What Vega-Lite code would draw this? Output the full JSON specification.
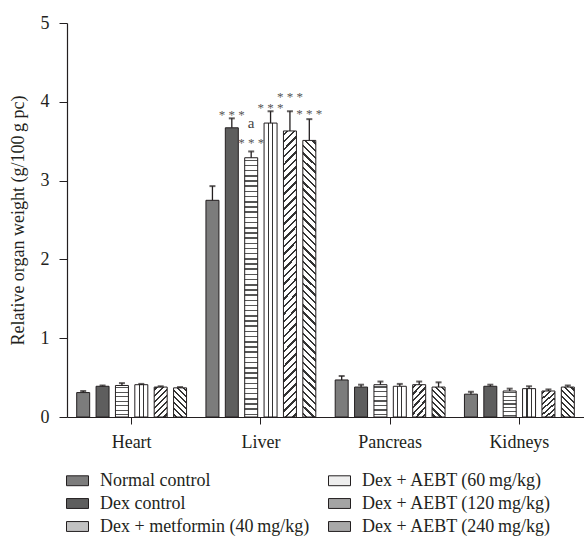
{
  "$schema": "https://vega.github.io/schema/vega-lite/v6.json",
  "width": 517,
  "height": 394,
  "autosize": {"type": "none"},
  "padding": {"left": 67, "top": 23, "right": 0, "bottom": 131},
  "background": "white",
  "config": {
    "view": {"stroke": null},
    "font": "Liberation Serif",
    "axis": {"labelFont": "Liberation Serif", "titleFont": "Liberation Serif", "labelColor": "#231f20", "titleColor": "#231f20", "domainColor": "#231f20", "tickColor": "#231f20", "grid": false},
    "legend": {"labelFont": "Liberation Serif", "labelColor": "#231f20"}
  },
  "datasets": {
    "bars": [
      {"organ": "Heart", "group": "Normal control", "mean": 0.31, "upper": 0.33},
      {"organ": "Heart", "group": "Dex control", "mean": 0.39, "upper": 0.40},
      {"organ": "Heart", "group": "Dex + metformin (40\u2009mg/kg)", "mean": 0.40, "upper": 0.43},
      {"organ": "Heart", "group": "Dex + AEBT (60\u2009mg/kg)", "mean": 0.41, "upper": 0.42},
      {"organ": "Heart", "group": "Dex + AEBT (120\u2009mg/kg)", "mean": 0.38, "upper": 0.39},
      {"organ": "Heart", "group": "Dex + AEBT (240\u2009mg/kg)", "mean": 0.37, "upper": 0.38},
      {"organ": "Liver", "group": "Normal control", "mean": 2.75, "upper": 2.93},
      {"organ": "Liver", "group": "Dex control", "mean": 3.67, "upper": 3.79},
      {"organ": "Liver", "group": "Dex + metformin (40\u2009mg/kg)", "mean": 3.29, "upper": 3.37},
      {"organ": "Liver", "group": "Dex + AEBT (60\u2009mg/kg)", "mean": 3.73, "upper": 3.88},
      {"organ": "Liver", "group": "Dex + AEBT (120\u2009mg/kg)", "mean": 3.63, "upper": 3.88},
      {"organ": "Liver", "group": "Dex + AEBT (240\u2009mg/kg)", "mean": 3.51, "upper": 3.78},
      {"organ": "Pancreas", "group": "Normal control", "mean": 0.47, "upper": 0.52},
      {"organ": "Pancreas", "group": "Dex control", "mean": 0.38, "upper": 0.41},
      {"organ": "Pancreas", "group": "Dex + metformin (40\u2009mg/kg)", "mean": 0.41, "upper": 0.45},
      {"organ": "Pancreas", "group": "Dex + AEBT (60\u2009mg/kg)", "mean": 0.39, "upper": 0.42},
      {"organ": "Pancreas", "group": "Dex + AEBT (120\u2009mg/kg)", "mean": 0.41, "upper": 0.45},
      {"organ": "Pancreas", "group": "Dex + AEBT (240\u2009mg/kg)", "mean": 0.38, "upper": 0.44},
      {"organ": "Kidneys", "group": "Normal control", "mean": 0.29, "upper": 0.32},
      {"organ": "Kidneys", "group": "Dex control", "mean": 0.39, "upper": 0.41},
      {"organ": "Kidneys", "group": "Dex + metformin (40\u2009mg/kg)", "mean": 0.33, "upper": 0.36},
      {"organ": "Kidneys", "group": "Dex + AEBT (60\u2009mg/kg)", "mean": 0.36, "upper": 0.39},
      {"organ": "Kidneys", "group": "Dex + AEBT (120\u2009mg/kg)", "mean": 0.33, "upper": 0.35},
      {"organ": "Kidneys", "group": "Dex + AEBT (240\u2009mg/kg)", "mean": 0.38, "upper": 0.40}
    ],
    "notes": [
      {"organ": "Liver", "group": "Dex control", "label": "* * *", "pos": 3.87},
      {"organ": "Liver", "group": "Dex + metformin (40\u2009mg/kg)", "label": "* * *", "pos": 3.51},
      {"organ": "Liver", "group": "Dex + AEBT (60\u2009mg/kg)", "label": "* * *", "pos": 3.96},
      {"organ": "Liver", "group": "Dex + AEBT (120\u2009mg/kg)", "label": "* * *", "pos": 4.10},
      {"organ": "Liver", "group": "Dex + AEBT (240\u2009mg/kg)", "label": "* * *", "pos": 3.88}
    ],
    "letters": [
      {"organ": "Liver", "group": "Dex + metformin (40\u2009mg/kg)", "label": "a", "pos": 3.73}
    ]
  },
  "encoding": {
    "x": {
      "field": "organ", "type": "nominal",
      "sort": ["Heart", "Liver", "Pancreas", "Kidneys"],
      "scale": {"paddingInner": 0.1, "paddingOuter": 0.05},
      "axis": {"title": null, "labelAngle": 0, "labelFontSize": 18, "labelPadding": 9, "tickSize": 7, "domainWidth": 1.2}
    },
    "xOffset": {
      "field": "group", "type": "nominal",
      "scale": {
        "domain": ["Normal control", "Dex control", "Dex + metformin (40\u2009mg/kg)", "Dex + AEBT (60\u2009mg/kg)", "Dex + AEBT (120\u2009mg/kg)", "Dex + AEBT (240\u2009mg/kg)"],
        "paddingInner": 0.33, "paddingOuter": 0.167
      }
    }
  },
  "layer": [
    {
      "data": {"name": "bars"},
      "mark": {"type": "bar", "stroke": "#231f20", "strokeWidth": 1},
      "encoding": {
        "y": {
          "field": "mean", "type": "quantitative",
          "scale": {"domain": [0, 5]},
          "axis": {"title": "Relative organ weight (g/100\u2009g pc)", "titleFontSize": 18, "titleFontWeight": "normal", "titleX": -49, "titleY": 197, "titleBaseline": "middle", "titleAngle": 270, "labelFontSize": 18, "labelPadding": 10, "labelOverlap": false, "tickSize": 8, "values": [0, 1, 2, 3, 4, 5], "domainWidth": 1.2}
        },
        "fill": {
          "field": "group", "type": "nominal",
          "scale": {
            "domain": ["Normal control", "Dex control", "Dex + metformin (40\u2009mg/kg)", "Dex + AEBT (60\u2009mg/kg)", "Dex + AEBT (120\u2009mg/kg)", "Dex + AEBT (240\u2009mg/kg)"],
            "range": ["#7c7c7c", "#5e5e5e", "#c2c2c2", "#eeeeee", "#a4a4a4", "#a9a9a9"]
          },
          "condition": [
            {"test": "datum.group === 'Dex + AEBT (60\u2009mg/kg)'", "value": {"gradient": "linear", "x1": 0, "y1": 0, "x2": 1, "y2": 0, "stops": [
              {"offset": 0, "color": "#ffffff"}, {"offset": 0.3, "color": "#ffffff"}, {"offset": 0.3, "color": "#333333"}, {"offset": 0.38, "color": "#333333"}, {"offset": 0.38, "color": "#ffffff"},
              {"offset": 0.62, "color": "#ffffff"}, {"offset": 0.62, "color": "#333333"}, {"offset": 0.7, "color": "#333333"}, {"offset": 0.7, "color": "#ffffff"}, {"offset": 1, "color": "#ffffff"}]}},
            {"test": "datum.group === 'Dex + metformin (40\u2009mg/kg)' && datum.organ === 'Liver'", "value": {"gradient": "linear", "x1": 0, "y1": 0, "x2": 0, "y2": 1, "stops": [
              {"offset": 0.007, "color": "#fff"}, {"offset": 0.007, "color": "#555"}, {"offset": 0.013, "color": "#555"}, {"offset": 0.013, "color": "#fff"},
              {"offset": 0.027, "color": "#fff"}, {"offset": 0.027, "color": "#555"}, {"offset": 0.033, "color": "#555"}, {"offset": 0.033, "color": "#fff"},
              {"offset": 0.047, "color": "#fff"}, {"offset": 0.047, "color": "#555"}, {"offset": 0.053, "color": "#555"}, {"offset": 0.053, "color": "#fff"},
              {"offset": 0.067, "color": "#fff"}, {"offset": 0.067, "color": "#555"}, {"offset": 0.073, "color": "#555"}, {"offset": 0.073, "color": "#fff"},
              {"offset": 0.087, "color": "#fff"}, {"offset": 0.087, "color": "#555"}, {"offset": 0.093, "color": "#555"}, {"offset": 0.093, "color": "#fff"},
              {"offset": 0.107, "color": "#fff"}, {"offset": 0.107, "color": "#555"}, {"offset": 0.113, "color": "#555"}, {"offset": 0.113, "color": "#fff"},
              {"offset": 0.127, "color": "#fff"}, {"offset": 0.127, "color": "#555"}, {"offset": 0.133, "color": "#555"}, {"offset": 0.133, "color": "#fff"},
              {"offset": 0.147, "color": "#fff"}, {"offset": 0.147, "color": "#555"}, {"offset": 0.153, "color": "#555"}, {"offset": 0.153, "color": "#fff"},
              {"offset": 0.167, "color": "#fff"}, {"offset": 0.167, "color": "#555"}, {"offset": 0.173, "color": "#555"}, {"offset": 0.173, "color": "#fff"},
              {"offset": 0.187, "color": "#fff"}, {"offset": 0.187, "color": "#555"}, {"offset": 0.193, "color": "#555"}, {"offset": 0.193, "color": "#fff"},
              {"offset": 0.207, "color": "#fff"}, {"offset": 0.207, "color": "#555"}, {"offset": 0.213, "color": "#555"}, {"offset": 0.213, "color": "#fff"},
              {"offset": 0.227, "color": "#fff"}, {"offset": 0.227, "color": "#555"}, {"offset": 0.233, "color": "#555"}, {"offset": 0.233, "color": "#fff"},
              {"offset": 0.247, "color": "#fff"}, {"offset": 0.247, "color": "#555"}, {"offset": 0.253, "color": "#555"}, {"offset": 0.253, "color": "#fff"},
              {"offset": 0.267, "color": "#fff"}, {"offset": 0.267, "color": "#555"}, {"offset": 0.273, "color": "#555"}, {"offset": 0.273, "color": "#fff"},
              {"offset": 0.287, "color": "#fff"}, {"offset": 0.287, "color": "#555"}, {"offset": 0.293, "color": "#555"}, {"offset": 0.293, "color": "#fff"},
              {"offset": 0.307, "color": "#fff"}, {"offset": 0.307, "color": "#555"}, {"offset": 0.313, "color": "#555"}, {"offset": 0.313, "color": "#fff"},
              {"offset": 0.327, "color": "#fff"}, {"offset": 0.327, "color": "#555"}, {"offset": 0.333, "color": "#555"}, {"offset": 0.333, "color": "#fff"},
              {"offset": 0.347, "color": "#fff"}, {"offset": 0.347, "color": "#555"}, {"offset": 0.353, "color": "#555"}, {"offset": 0.353, "color": "#fff"},
              {"offset": 0.367, "color": "#fff"}, {"offset": 0.367, "color": "#555"}, {"offset": 0.373, "color": "#555"}, {"offset": 0.373, "color": "#fff"},
              {"offset": 0.387, "color": "#fff"}, {"offset": 0.387, "color": "#555"}, {"offset": 0.393, "color": "#555"}, {"offset": 0.393, "color": "#fff"},
              {"offset": 0.407, "color": "#fff"}, {"offset": 0.407, "color": "#555"}, {"offset": 0.413, "color": "#555"}, {"offset": 0.413, "color": "#fff"},
              {"offset": 0.427, "color": "#fff"}, {"offset": 0.427, "color": "#555"}, {"offset": 0.433, "color": "#555"}, {"offset": 0.433, "color": "#fff"},
              {"offset": 0.447, "color": "#fff"}, {"offset": 0.447, "color": "#555"}, {"offset": 0.453, "color": "#555"}, {"offset": 0.453, "color": "#fff"},
              {"offset": 0.467, "color": "#fff"}, {"offset": 0.467, "color": "#555"}, {"offset": 0.473, "color": "#555"}, {"offset": 0.473, "color": "#fff"},
              {"offset": 0.487, "color": "#fff"}, {"offset": 0.487, "color": "#555"}, {"offset": 0.493, "color": "#555"}, {"offset": 0.493, "color": "#fff"},
              {"offset": 0.507, "color": "#fff"}, {"offset": 0.507, "color": "#555"}, {"offset": 0.513, "color": "#555"}, {"offset": 0.513, "color": "#fff"},
              {"offset": 0.527, "color": "#fff"}, {"offset": 0.527, "color": "#555"}, {"offset": 0.533, "color": "#555"}, {"offset": 0.533, "color": "#fff"},
              {"offset": 0.547, "color": "#fff"}, {"offset": 0.547, "color": "#555"}, {"offset": 0.553, "color": "#555"}, {"offset": 0.553, "color": "#fff"},
              {"offset": 0.567, "color": "#fff"}, {"offset": 0.567, "color": "#555"}, {"offset": 0.573, "color": "#555"}, {"offset": 0.573, "color": "#fff"},
              {"offset": 0.587, "color": "#fff"}, {"offset": 0.587, "color": "#555"}, {"offset": 0.593, "color": "#555"}, {"offset": 0.593, "color": "#fff"},
              {"offset": 0.607, "color": "#fff"}, {"offset": 0.607, "color": "#555"}, {"offset": 0.613, "color": "#555"}, {"offset": 0.613, "color": "#fff"},
              {"offset": 0.627, "color": "#fff"}, {"offset": 0.627, "color": "#555"}, {"offset": 0.633, "color": "#555"}, {"offset": 0.633, "color": "#fff"},
              {"offset": 0.647, "color": "#fff"}, {"offset": 0.647, "color": "#555"}, {"offset": 0.653, "color": "#555"}, {"offset": 0.653, "color": "#fff"},
              {"offset": 0.667, "color": "#fff"}, {"offset": 0.667, "color": "#555"}, {"offset": 0.673, "color": "#555"}, {"offset": 0.673, "color": "#fff"},
              {"offset": 0.687, "color": "#fff"}, {"offset": 0.687, "color": "#555"}, {"offset": 0.693, "color": "#555"}, {"offset": 0.693, "color": "#fff"},
              {"offset": 0.707, "color": "#fff"}, {"offset": 0.707, "color": "#555"}, {"offset": 0.713, "color": "#555"}, {"offset": 0.713, "color": "#fff"},
              {"offset": 0.727, "color": "#fff"}, {"offset": 0.727, "color": "#555"}, {"offset": 0.733, "color": "#555"}, {"offset": 0.733, "color": "#fff"},
              {"offset": 0.747, "color": "#fff"}, {"offset": 0.747, "color": "#555"}, {"offset": 0.753, "color": "#555"}, {"offset": 0.753, "color": "#fff"},
              {"offset": 0.767, "color": "#fff"}, {"offset": 0.767, "color": "#555"}, {"offset": 0.773, "color": "#555"}, {"offset": 0.773, "color": "#fff"},
              {"offset": 0.787, "color": "#fff"}, {"offset": 0.787, "color": "#555"}, {"offset": 0.793, "color": "#555"}, {"offset": 0.793, "color": "#fff"},
              {"offset": 0.807, "color": "#fff"}, {"offset": 0.807, "color": "#555"}, {"offset": 0.813, "color": "#555"}, {"offset": 0.813, "color": "#fff"},
              {"offset": 0.827, "color": "#fff"}, {"offset": 0.827, "color": "#555"}, {"offset": 0.833, "color": "#555"}, {"offset": 0.833, "color": "#fff"},
              {"offset": 0.847, "color": "#fff"}, {"offset": 0.847, "color": "#555"}, {"offset": 0.853, "color": "#555"}, {"offset": 0.853, "color": "#fff"},
              {"offset": 0.867, "color": "#fff"}, {"offset": 0.867, "color": "#555"}, {"offset": 0.873, "color": "#555"}, {"offset": 0.873, "color": "#fff"},
              {"offset": 0.887, "color": "#fff"}, {"offset": 0.887, "color": "#555"}, {"offset": 0.893, "color": "#555"}, {"offset": 0.893, "color": "#fff"},
              {"offset": 0.907, "color": "#fff"}, {"offset": 0.907, "color": "#555"}, {"offset": 0.913, "color": "#555"}, {"offset": 0.913, "color": "#fff"},
              {"offset": 0.927, "color": "#fff"}, {"offset": 0.927, "color": "#555"}, {"offset": 0.933, "color": "#555"}, {"offset": 0.933, "color": "#fff"},
              {"offset": 0.947, "color": "#fff"}, {"offset": 0.947, "color": "#555"}, {"offset": 0.953, "color": "#555"}, {"offset": 0.953, "color": "#fff"},
              {"offset": 0.967, "color": "#fff"}, {"offset": 0.967, "color": "#555"}, {"offset": 0.973, "color": "#555"}, {"offset": 0.973, "color": "#fff"},
              {"offset": 0.987, "color": "#fff"}, {"offset": 0.987, "color": "#555"}, {"offset": 0.993, "color": "#555"}, {"offset": 0.993, "color": "#fff"}]}},
            {"test": "datum.group === 'Dex + metformin (40\u2009mg/kg)'", "value": {"gradient": "linear", "x1": 0, "y1": 0, "x2": 0, "y2": 1, "stops": [
              {"offset": 0.05, "color": "#fff"}, {"offset": 0.05, "color": "#555"}, {"offset": 0.095, "color": "#555"}, {"offset": 0.095, "color": "#fff"},
              {"offset": 0.1929, "color": "#fff"}, {"offset": 0.1929, "color": "#555"}, {"offset": 0.2379, "color": "#555"}, {"offset": 0.2379, "color": "#fff"},
              {"offset": 0.3357, "color": "#fff"}, {"offset": 0.3357, "color": "#555"}, {"offset": 0.3807, "color": "#555"}, {"offset": 0.3807, "color": "#fff"},
              {"offset": 0.4786, "color": "#fff"}, {"offset": 0.4786, "color": "#555"}, {"offset": 0.5236, "color": "#555"}, {"offset": 0.5236, "color": "#fff"},
              {"offset": 0.6214, "color": "#fff"}, {"offset": 0.6214, "color": "#555"}, {"offset": 0.6664, "color": "#555"}, {"offset": 0.6664, "color": "#fff"},
              {"offset": 0.7643, "color": "#fff"}, {"offset": 0.7643, "color": "#555"}, {"offset": 0.8093, "color": "#555"}, {"offset": 0.8093, "color": "#fff"},
              {"offset": 0.9071, "color": "#fff"}, {"offset": 0.9071, "color": "#555"}, {"offset": 0.9521, "color": "#555"}, {"offset": 0.9521, "color": "#fff"}]}},
            {"test": "datum.group === 'Dex + AEBT (120\u2009mg/kg)' && datum.organ === 'Liver'", "value": {"gradient": "linear", "x1": 0, "y1": 0, "x2": 0.0483, "y2": 1.044, "stops": [
              {"offset": 0.009, "color": "#fff"}, {"offset": 0.009, "color": "#333"}, {"offset": 0.017, "color": "#333"}, {"offset": 0.017, "color": "#fff"},
              {"offset": 0.034, "color": "#fff"}, {"offset": 0.034, "color": "#333"}, {"offset": 0.042, "color": "#333"}, {"offset": 0.042, "color": "#fff"},
              {"offset": 0.059, "color": "#fff"}, {"offset": 0.059, "color": "#333"}, {"offset": 0.067, "color": "#333"}, {"offset": 0.067, "color": "#fff"},
              {"offset": 0.084, "color": "#fff"}, {"offset": 0.084, "color": "#333"}, {"offset": 0.092, "color": "#333"}, {"offset": 0.092, "color": "#fff"},
              {"offset": 0.109, "color": "#fff"}, {"offset": 0.109, "color": "#333"}, {"offset": 0.117, "color": "#333"}, {"offset": 0.117, "color": "#fff"},
              {"offset": 0.134, "color": "#fff"}, {"offset": 0.134, "color": "#333"}, {"offset": 0.142, "color": "#333"}, {"offset": 0.142, "color": "#fff"},
              {"offset": 0.159, "color": "#fff"}, {"offset": 0.159, "color": "#333"}, {"offset": 0.167, "color": "#333"}, {"offset": 0.167, "color": "#fff"},
              {"offset": 0.184, "color": "#fff"}, {"offset": 0.184, "color": "#333"}, {"offset": 0.192, "color": "#333"}, {"offset": 0.192, "color": "#fff"},
              {"offset": 0.209, "color": "#fff"}, {"offset": 0.209, "color": "#333"}, {"offset": 0.217, "color": "#333"}, {"offset": 0.217, "color": "#fff"},
              {"offset": 0.234, "color": "#fff"}, {"offset": 0.234, "color": "#333"}, {"offset": 0.242, "color": "#333"}, {"offset": 0.242, "color": "#fff"},
              {"offset": 0.259, "color": "#fff"}, {"offset": 0.259, "color": "#333"}, {"offset": 0.267, "color": "#333"}, {"offset": 0.267, "color": "#fff"},
              {"offset": 0.284, "color": "#fff"}, {"offset": 0.284, "color": "#333"}, {"offset": 0.292, "color": "#333"}, {"offset": 0.292, "color": "#fff"},
              {"offset": 0.309, "color": "#fff"}, {"offset": 0.309, "color": "#333"}, {"offset": 0.317, "color": "#333"}, {"offset": 0.317, "color": "#fff"},
              {"offset": 0.334, "color": "#fff"}, {"offset": 0.334, "color": "#333"}, {"offset": 0.342, "color": "#333"}, {"offset": 0.342, "color": "#fff"},
              {"offset": 0.359, "color": "#fff"}, {"offset": 0.359, "color": "#333"}, {"offset": 0.367, "color": "#333"}, {"offset": 0.367, "color": "#fff"},
              {"offset": 0.384, "color": "#fff"}, {"offset": 0.384, "color": "#333"}, {"offset": 0.392, "color": "#333"}, {"offset": 0.392, "color": "#fff"},
              {"offset": 0.409, "color": "#fff"}, {"offset": 0.409, "color": "#333"}, {"offset": 0.417, "color": "#333"}, {"offset": 0.417, "color": "#fff"},
              {"offset": 0.434, "color": "#fff"}, {"offset": 0.434, "color": "#333"}, {"offset": 0.442, "color": "#333"}, {"offset": 0.442, "color": "#fff"},
              {"offset": 0.459, "color": "#fff"}, {"offset": 0.459, "color": "#333"}, {"offset": 0.467, "color": "#333"}, {"offset": 0.467, "color": "#fff"},
              {"offset": 0.484, "color": "#fff"}, {"offset": 0.484, "color": "#333"}, {"offset": 0.492, "color": "#333"}, {"offset": 0.492, "color": "#fff"},
              {"offset": 0.509, "color": "#fff"}, {"offset": 0.509, "color": "#333"}, {"offset": 0.517, "color": "#333"}, {"offset": 0.517, "color": "#fff"},
              {"offset": 0.534, "color": "#fff"}, {"offset": 0.534, "color": "#333"}, {"offset": 0.542, "color": "#333"}, {"offset": 0.542, "color": "#fff"},
              {"offset": 0.559, "color": "#fff"}, {"offset": 0.559, "color": "#333"}, {"offset": 0.567, "color": "#333"}, {"offset": 0.567, "color": "#fff"},
              {"offset": 0.584, "color": "#fff"}, {"offset": 0.584, "color": "#333"}, {"offset": 0.592, "color": "#333"}, {"offset": 0.592, "color": "#fff"},
              {"offset": 0.609, "color": "#fff"}, {"offset": 0.609, "color": "#333"}, {"offset": 0.617, "color": "#333"}, {"offset": 0.617, "color": "#fff"},
              {"offset": 0.634, "color": "#fff"}, {"offset": 0.634, "color": "#333"}, {"offset": 0.642, "color": "#333"}, {"offset": 0.642, "color": "#fff"},
              {"offset": 0.659, "color": "#fff"}, {"offset": 0.659, "color": "#333"}, {"offset": 0.667, "color": "#333"}, {"offset": 0.667, "color": "#fff"},
              {"offset": 0.684, "color": "#fff"}, {"offset": 0.684, "color": "#333"}, {"offset": 0.692, "color": "#333"}, {"offset": 0.692, "color": "#fff"},
              {"offset": 0.709, "color": "#fff"}, {"offset": 0.709, "color": "#333"}, {"offset": 0.717, "color": "#333"}, {"offset": 0.717, "color": "#fff"},
              {"offset": 0.734, "color": "#fff"}, {"offset": 0.734, "color": "#333"}, {"offset": 0.742, "color": "#333"}, {"offset": 0.742, "color": "#fff"},
              {"offset": 0.759, "color": "#fff"}, {"offset": 0.759, "color": "#333"}, {"offset": 0.767, "color": "#333"}, {"offset": 0.767, "color": "#fff"},
              {"offset": 0.784, "color": "#fff"}, {"offset": 0.784, "color": "#333"}, {"offset": 0.792, "color": "#333"}, {"offset": 0.792, "color": "#fff"},
              {"offset": 0.809, "color": "#fff"}, {"offset": 0.809, "color": "#333"}, {"offset": 0.817, "color": "#333"}, {"offset": 0.817, "color": "#fff"},
              {"offset": 0.834, "color": "#fff"}, {"offset": 0.834, "color": "#333"}, {"offset": 0.842, "color": "#333"}, {"offset": 0.842, "color": "#fff"},
              {"offset": 0.859, "color": "#fff"}, {"offset": 0.859, "color": "#333"}, {"offset": 0.867, "color": "#333"}, {"offset": 0.867, "color": "#fff"},
              {"offset": 0.884, "color": "#fff"}, {"offset": 0.884, "color": "#333"}, {"offset": 0.892, "color": "#333"}, {"offset": 0.892, "color": "#fff"},
              {"offset": 0.909, "color": "#fff"}, {"offset": 0.909, "color": "#333"}, {"offset": 0.917, "color": "#333"}, {"offset": 0.917, "color": "#fff"},
              {"offset": 0.934, "color": "#fff"}, {"offset": 0.934, "color": "#333"}, {"offset": 0.942, "color": "#333"}, {"offset": 0.942, "color": "#fff"},
              {"offset": 0.959, "color": "#fff"}, {"offset": 0.959, "color": "#333"}, {"offset": 0.967, "color": "#333"}, {"offset": 0.967, "color": "#fff"},
              {"offset": 0.984, "color": "#fff"}, {"offset": 0.984, "color": "#333"}, {"offset": 0.992, "color": "#333"}, {"offset": 0.992, "color": "#fff"}]}},
            {"test": "datum.group === 'Dex + AEBT (120\u2009mg/kg)'", "value": {"gradient": "linear", "x1": 0, "y1": 0, "x2": 0.523, "y2": 1.207, "stops": [
              {"offset": 0.04, "color": "#fff"}, {"offset": 0.04, "color": "#333"}, {"offset": 0.093, "color": "#333"}, {"offset": 0.093, "color": "#fff"},
              {"offset": 0.1829, "color": "#fff"}, {"offset": 0.1829, "color": "#333"}, {"offset": 0.2359, "color": "#333"}, {"offset": 0.2359, "color": "#fff"},
              {"offset": 0.3257, "color": "#fff"}, {"offset": 0.3257, "color": "#333"}, {"offset": 0.3787, "color": "#333"}, {"offset": 0.3787, "color": "#fff"},
              {"offset": 0.4686, "color": "#fff"}, {"offset": 0.4686, "color": "#333"}, {"offset": 0.5216, "color": "#333"}, {"offset": 0.5216, "color": "#fff"},
              {"offset": 0.6114, "color": "#fff"}, {"offset": 0.6114, "color": "#333"}, {"offset": 0.6644, "color": "#333"}, {"offset": 0.6644, "color": "#fff"},
              {"offset": 0.7543, "color": "#fff"}, {"offset": 0.7543, "color": "#333"}, {"offset": 0.8073, "color": "#333"}, {"offset": 0.8073, "color": "#fff"},
              {"offset": 0.8971, "color": "#fff"}, {"offset": 0.8971, "color": "#333"}, {"offset": 0.9501, "color": "#333"}, {"offset": 0.9501, "color": "#fff"}]}},
            {"test": "datum.group === 'Dex + AEBT (240\u2009mg/kg)' && datum.organ === 'Liver'", "value": {"gradient": "linear", "x1": 0, "y1": 1, "x2": 0.0483, "y2": -0.044, "stops": [
              {"offset": 0.009, "color": "#fff"}, {"offset": 0.009, "color": "#333"}, {"offset": 0.017, "color": "#333"}, {"offset": 0.017, "color": "#fff"},
              {"offset": 0.034, "color": "#fff"}, {"offset": 0.034, "color": "#333"}, {"offset": 0.042, "color": "#333"}, {"offset": 0.042, "color": "#fff"},
              {"offset": 0.059, "color": "#fff"}, {"offset": 0.059, "color": "#333"}, {"offset": 0.067, "color": "#333"}, {"offset": 0.067, "color": "#fff"},
              {"offset": 0.084, "color": "#fff"}, {"offset": 0.084, "color": "#333"}, {"offset": 0.092, "color": "#333"}, {"offset": 0.092, "color": "#fff"},
              {"offset": 0.109, "color": "#fff"}, {"offset": 0.109, "color": "#333"}, {"offset": 0.117, "color": "#333"}, {"offset": 0.117, "color": "#fff"},
              {"offset": 0.134, "color": "#fff"}, {"offset": 0.134, "color": "#333"}, {"offset": 0.142, "color": "#333"}, {"offset": 0.142, "color": "#fff"},
              {"offset": 0.159, "color": "#fff"}, {"offset": 0.159, "color": "#333"}, {"offset": 0.167, "color": "#333"}, {"offset": 0.167, "color": "#fff"},
              {"offset": 0.184, "color": "#fff"}, {"offset": 0.184, "color": "#333"}, {"offset": 0.192, "color": "#333"}, {"offset": 0.192, "color": "#fff"},
              {"offset": 0.209, "color": "#fff"}, {"offset": 0.209, "color": "#333"}, {"offset": 0.217, "color": "#333"}, {"offset": 0.217, "color": "#fff"},
              {"offset": 0.234, "color": "#fff"}, {"offset": 0.234, "color": "#333"}, {"offset": 0.242, "color": "#333"}, {"offset": 0.242, "color": "#fff"},
              {"offset": 0.259, "color": "#fff"}, {"offset": 0.259, "color": "#333"}, {"offset": 0.267, "color": "#333"}, {"offset": 0.267, "color": "#fff"},
              {"offset": 0.284, "color": "#fff"}, {"offset": 0.284, "color": "#333"}, {"offset": 0.292, "color": "#333"}, {"offset": 0.292, "color": "#fff"},
              {"offset": 0.309, "color": "#fff"}, {"offset": 0.309, "color": "#333"}, {"offset": 0.317, "color": "#333"}, {"offset": 0.317, "color": "#fff"},
              {"offset": 0.334, "color": "#fff"}, {"offset": 0.334, "color": "#333"}, {"offset": 0.342, "color": "#333"}, {"offset": 0.342, "color": "#fff"},
              {"offset": 0.359, "color": "#fff"}, {"offset": 0.359, "color": "#333"}, {"offset": 0.367, "color": "#333"}, {"offset": 0.367, "color": "#fff"},
              {"offset": 0.384, "color": "#fff"}, {"offset": 0.384, "color": "#333"}, {"offset": 0.392, "color": "#333"}, {"offset": 0.392, "color": "#fff"},
              {"offset": 0.409, "color": "#fff"}, {"offset": 0.409, "color": "#333"}, {"offset": 0.417, "color": "#333"}, {"offset": 0.417, "color": "#fff"},
              {"offset": 0.434, "color": "#fff"}, {"offset": 0.434, "color": "#333"}, {"offset": 0.442, "color": "#333"}, {"offset": 0.442, "color": "#fff"},
              {"offset": 0.459, "color": "#fff"}, {"offset": 0.459, "color": "#333"}, {"offset": 0.467, "color": "#333"}, {"offset": 0.467, "color": "#fff"},
              {"offset": 0.484, "color": "#fff"}, {"offset": 0.484, "color": "#333"}, {"offset": 0.492, "color": "#333"}, {"offset": 0.492, "color": "#fff"},
              {"offset": 0.509, "color": "#fff"}, {"offset": 0.509, "color": "#333"}, {"offset": 0.517, "color": "#333"}, {"offset": 0.517, "color": "#fff"},
              {"offset": 0.534, "color": "#fff"}, {"offset": 0.534, "color": "#333"}, {"offset": 0.542, "color": "#333"}, {"offset": 0.542, "color": "#fff"},
              {"offset": 0.559, "color": "#fff"}, {"offset": 0.559, "color": "#333"}, {"offset": 0.567, "color": "#333"}, {"offset": 0.567, "color": "#fff"},
              {"offset": 0.584, "color": "#fff"}, {"offset": 0.584, "color": "#333"}, {"offset": 0.592, "color": "#333"}, {"offset": 0.592, "color": "#fff"},
              {"offset": 0.609, "color": "#fff"}, {"offset": 0.609, "color": "#333"}, {"offset": 0.617, "color": "#333"}, {"offset": 0.617, "color": "#fff"},
              {"offset": 0.634, "color": "#fff"}, {"offset": 0.634, "color": "#333"}, {"offset": 0.642, "color": "#333"}, {"offset": 0.642, "color": "#fff"},
              {"offset": 0.659, "color": "#fff"}, {"offset": 0.659, "color": "#333"}, {"offset": 0.667, "color": "#333"}, {"offset": 0.667, "color": "#fff"},
              {"offset": 0.684, "color": "#fff"}, {"offset": 0.684, "color": "#333"}, {"offset": 0.692, "color": "#333"}, {"offset": 0.692, "color": "#fff"},
              {"offset": 0.709, "color": "#fff"}, {"offset": 0.709, "color": "#333"}, {"offset": 0.717, "color": "#333"}, {"offset": 0.717, "color": "#fff"},
              {"offset": 0.734, "color": "#fff"}, {"offset": 0.734, "color": "#333"}, {"offset": 0.742, "color": "#333"}, {"offset": 0.742, "color": "#fff"},
              {"offset": 0.759, "color": "#fff"}, {"offset": 0.759, "color": "#333"}, {"offset": 0.767, "color": "#333"}, {"offset": 0.767, "color": "#fff"},
              {"offset": 0.784, "color": "#fff"}, {"offset": 0.784, "color": "#333"}, {"offset": 0.792, "color": "#333"}, {"offset": 0.792, "color": "#fff"},
              {"offset": 0.809, "color": "#fff"}, {"offset": 0.809, "color": "#333"}, {"offset": 0.817, "color": "#333"}, {"offset": 0.817, "color": "#fff"},
              {"offset": 0.834, "color": "#fff"}, {"offset": 0.834, "color": "#333"}, {"offset": 0.842, "color": "#333"}, {"offset": 0.842, "color": "#fff"},
              {"offset": 0.859, "color": "#fff"}, {"offset": 0.859, "color": "#333"}, {"offset": 0.867, "color": "#333"}, {"offset": 0.867, "color": "#fff"},
              {"offset": 0.884, "color": "#fff"}, {"offset": 0.884, "color": "#333"}, {"offset": 0.892, "color": "#333"}, {"offset": 0.892, "color": "#fff"},
              {"offset": 0.909, "color": "#fff"}, {"offset": 0.909, "color": "#333"}, {"offset": 0.917, "color": "#333"}, {"offset": 0.917, "color": "#fff"},
              {"offset": 0.934, "color": "#fff"}, {"offset": 0.934, "color": "#333"}, {"offset": 0.942, "color": "#333"}, {"offset": 0.942, "color": "#fff"},
              {"offset": 0.959, "color": "#fff"}, {"offset": 0.959, "color": "#333"}, {"offset": 0.967, "color": "#333"}, {"offset": 0.967, "color": "#fff"},
              {"offset": 0.984, "color": "#fff"}, {"offset": 0.984, "color": "#333"}, {"offset": 0.992, "color": "#333"}, {"offset": 0.992, "color": "#fff"}]}},
            {"test": "datum.group === 'Dex + AEBT (240\u2009mg/kg)'", "value": {"gradient": "linear", "x1": 0, "y1": 1, "x2": 0.523, "y2": -0.207, "stops": [
              {"offset": 0.04, "color": "#fff"}, {"offset": 0.04, "color": "#333"}, {"offset": 0.093, "color": "#333"}, {"offset": 0.093, "color": "#fff"},
              {"offset": 0.1829, "color": "#fff"}, {"offset": 0.1829, "color": "#333"}, {"offset": 0.2359, "color": "#333"}, {"offset": 0.2359, "color": "#fff"},
              {"offset": 0.3257, "color": "#fff"}, {"offset": 0.3257, "color": "#333"}, {"offset": 0.3787, "color": "#333"}, {"offset": 0.3787, "color": "#fff"},
              {"offset": 0.4686, "color": "#fff"}, {"offset": 0.4686, "color": "#333"}, {"offset": 0.5216, "color": "#333"}, {"offset": 0.5216, "color": "#fff"},
              {"offset": 0.6114, "color": "#fff"}, {"offset": 0.6114, "color": "#333"}, {"offset": 0.6644, "color": "#333"}, {"offset": 0.6644, "color": "#fff"},
              {"offset": 0.7543, "color": "#fff"}, {"offset": 0.7543, "color": "#333"}, {"offset": 0.8073, "color": "#333"}, {"offset": 0.8073, "color": "#fff"},
              {"offset": 0.8971, "color": "#fff"}, {"offset": 0.8971, "color": "#333"}, {"offset": 0.9501, "color": "#333"}, {"offset": 0.9501, "color": "#fff"}]}}
          ],
          "legend": {
            "title": null, "orient": "none", "legendX": -1, "legendY": 446,
            "columns": 2, "columnPadding": 16, "rowPadding": 2,
            "labelFontSize": 18, "labelOffset": 11, "labelLimit": 300,
            "symbolType": "M-1,-0.45H1V0.45H-1Z", "symbolSize": 484,
            "symbolStrokeColor": "#231f20", "symbolStrokeWidth": 1
          }
        }
      }
    },
    {
      "data": {"name": "bars"},
      "mark": {"type": "rule", "color": "#231f20", "strokeWidth": 1.3},
      "encoding": {
        "y": {"field": "mean", "type": "quantitative", "axis": {"title": "Relative organ weight (g/100\u2009g pc)", "titleFontSize": 18, "titleFontWeight": "normal", "titleX": -49, "titleY": 197, "titleBaseline": "middle", "titleAngle": 270, "labelFontSize": 18, "labelPadding": 10, "labelOverlap": false, "tickSize": 8, "values": [0, 1, 2, 3, 4, 5], "domainWidth": 1.2}},
        "y2": {"field": "upper"}
      }
    },
    {
      "data": {"name": "bars"},
      "mark": {"type": "tick", "color": "#231f20", "size": 6, "thickness": 2},
      "encoding": {
        "y": {"field": "upper", "type": "quantitative", "axis": {"title": "Relative organ weight (g/100\u2009g pc)", "titleFontSize": 18, "titleFontWeight": "normal", "titleX": -49, "titleY": 197, "titleBaseline": "middle", "titleAngle": 270, "labelFontSize": 18, "labelPadding": 10, "labelOverlap": false, "tickSize": 8, "values": [0, 1, 2, 3, 4, 5], "domainWidth": 1.2}}
      }
    },
    {
      "data": {"name": "notes"},
      "mark": {"type": "text", "fontSize": 13, "color": "#555555", "baseline": "middle", "dy": 3},
      "encoding": {
        "y": {"field": "pos", "type": "quantitative", "axis": {"title": "Relative organ weight (g/100\u2009g pc)", "titleFontSize": 18, "titleFontWeight": "normal", "titleX": -49, "titleY": 197, "titleBaseline": "middle", "titleAngle": 270, "labelFontSize": 18, "labelPadding": 10, "labelOverlap": false, "tickSize": 8, "values": [0, 1, 2, 3, 4, 5], "domainWidth": 1.2}},
        "text": {"field": "label"}
      }
    },
    {
      "data": {"name": "letters"},
      "mark": {"type": "text", "fontSize": 15, "color": "#444444", "baseline": "middle"},
      "encoding": {
        "y": {"field": "pos", "type": "quantitative", "axis": {"title": "Relative organ weight (g/100\u2009g pc)", "titleFontSize": 18, "titleFontWeight": "normal", "titleX": -49, "titleY": 197, "titleBaseline": "middle", "titleAngle": 270, "labelFontSize": 18, "labelPadding": 10, "labelOverlap": false, "tickSize": 8, "values": [0, 1, 2, 3, 4, 5], "domainWidth": 1.2}},
        "text": {"field": "label"}
      }
    }
  ]
}
